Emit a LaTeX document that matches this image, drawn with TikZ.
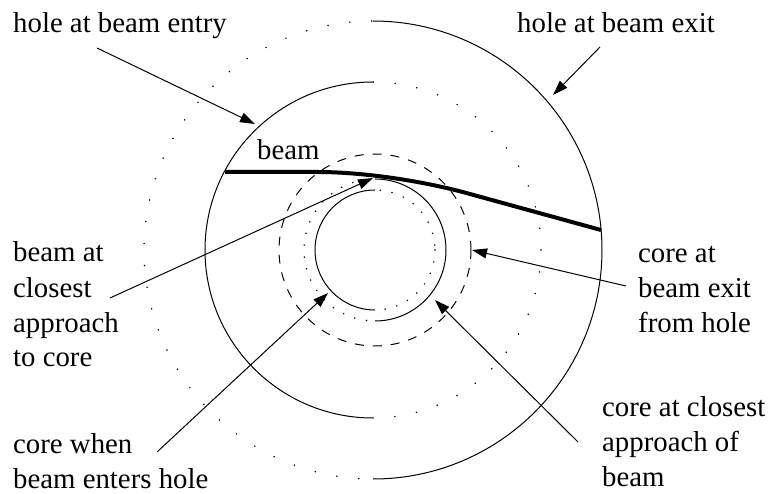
\documentclass[tikz,border=0pt]{standalone}
\usepackage{fontspec}
\setmainfont{Liberation Serif}
\usetikzlibrary{arrows.meta}
\tikzset{
  lbl/.style={font=\fontsize{28.8}{35}\selectfont, inner sep=0pt, align=left, anchor=base west},
  ptr/.style={line width=1pt, -{Triangle[length=15pt,width=10pt]}},
  thinline/.style={line width=1pt},
  dotsfar/.style={line width=1.7pt, line cap=round, dash pattern=on 0pt off 22pt},
  dotsnear/.style={line width=1.7pt, line cap=round, dash pattern=on 0pt off 12pt},
  dashline/.style={line width=1pt, dash pattern=on 9pt off 9pt},
  beamline/.style={line width=4pt}
}
\begin{document}
\begin{tikzpicture}[x=1pt,y=-1pt]
\useasboundingbox (0,0) rectangle (769,494);
\coordinate (H) at (373,250);
\coordinate (K) at (375,250);
% hole at beam exit: right half solid, left half dotted
\begin{scope}
  \clip (373,0) rectangle (769,494);
  \draw[thinline] (H) circle[radius=229];
  \draw[dotsfar] (H) circle[radius=168];
\end{scope}
\begin{scope}
  \clip (0,0) rectangle (373,494);
  \draw[dotsfar] (H) circle[radius=229];
  \draw[thinline] (H) circle[radius=168];
\end{scope}
% core circles
\begin{scope}
  \clip (375,0) rectangle (769,494);
  \draw[thinline] (K) circle[radius=71];
  \draw[dotsnear] (K) circle[radius=60];
\end{scope}
\begin{scope}
  \clip (0,0) rectangle (375,494);
  \draw[dotsnear] (K) circle[radius=71];
  \draw[thinline] (K) circle[radius=60];
\end{scope}
\draw[dashline] (K) circle[radius=96];
% beam
\coordinate (b0) at (225,172);
\coordinate (b1) at (318,172);
\coordinate (b2) at (470,194);
\coordinate (b3) at (601,230);
\draw[beamline] (b0) -- (b1) .. controls (360,172) and (420,180) .. (b2) -- (b3);
% labels (multi-line nodes: base anchor sits on the last line)
\node[lbl] (tentry) at (13,33) {hole at beam entry};
\node[lbl] (texit) at (517,33) {hole at beam exit};
\node[lbl] (tbeam) at (257,160) {beam};
\node[lbl] (tclose) at (13,367) {beam at\\closest\\approach\\to core};
\node[lbl] (tcexit) at (638,333) {core at\\beam exit\\from hole};
\node[lbl] (tcenter) at (13,488) {core when\\beam enters hole};
\node[lbl] (tcclose) at (602,486) {core at closest\\approach of\\beam};
% arrows
\coordinate (a1s) at (97,48);   \coordinate (a1e) at (255,124);
\coordinate (a2s) at (600,47);  \coordinate (a2e) at (553,95);
\coordinate (a3s) at (110,298); \coordinate (a3e) at (373,178);
\coordinate (a4s) at (626,286); \coordinate (a4e) at (472,250);
\coordinate (a5s) at (157,452); \coordinate (a5e) at (328,293);
\coordinate (a6s) at (578,442); \coordinate (a6e) at (435,300);
\draw[ptr] (a1s) -- (a1e);
\draw[ptr] (a2s) -- (a2e);
\draw[ptr] (a3s) -- (a3e);
\draw[ptr] (a4s) -- (a4e);
\draw[ptr] (a5s) -- (a5e);
\draw[ptr] (a6s) -- (a6e);
\end{tikzpicture}
\end{document}
